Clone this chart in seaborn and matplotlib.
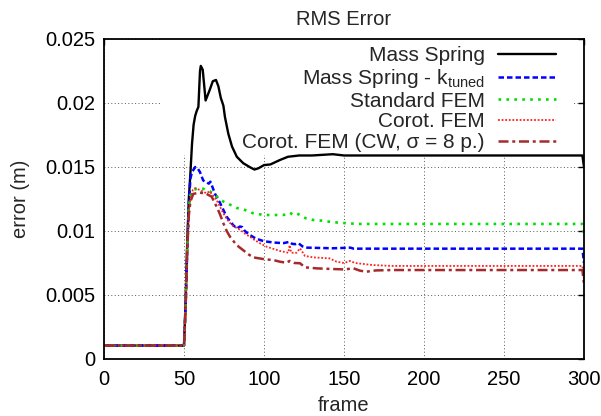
import matplotlib
matplotlib.use("Agg")
import matplotlib.pyplot as plt
from matplotlib.patches import Rectangle
import pandas as pd
import seaborn as sns

# frame / error pairs
ms_frames = [0, 50, 51, 52, 53, 54, 55, 56, 57, 58, 59, 60, 60.5, 61.7, 63.5, 66, 68, 70, 71.5, 73,
             74.6, 75.6, 77.7, 80, 83, 87, 91, 94, 96.5, 100, 104, 110, 115, 122, 130, 143, 150, 299, 300]
ms_err = [0.00105, 0.00105, 0.0045, 0.009, 0.0125, 0.0145, 0.0168, 0.0183, 0.0190, 0.0194, 0.0197,
          0.0225, 0.0229, 0.0226, 0.0202, 0.0210, 0.0217, 0.0218, 0.0213, 0.0204, 0.0198, 0.0189,
          0.0176, 0.0166, 0.0158, 0.0153, 0.0150, 0.0148, 0.0149, 0.01515, 0.0152, 0.01555, 0.0158,
          0.0159, 0.0159, 0.0160, 0.0159, 0.0159, 0.0150]

kt_frames = [0, 50, 51, 52, 53, 54, 55, 57, 58.5, 60, 62, 64.2, 65.5, 66.5, 69.4, 72.5, 76.7, 80.8,
             83, 85, 86.5, 88, 91, 95, 100, 106, 112, 116, 117.5, 119.5, 121.5, 124, 127, 143, 150,
             154, 156, 299, 300]
kt_err = [0.00105, 0.00105, 0.004, 0.0085, 0.012, 0.0141, 0.0146, 0.0150, 0.0149, 0.0146, 0.01395,
          0.0138, 0.0137, 0.01385, 0.0129, 0.0122, 0.0111, 0.01045, 0.0102, 0.01035, 0.0103, 0.0100,
          0.0097, 0.0094, 0.0092, 0.0091, 0.00905, 0.00915, 0.0090, 0.00897, 0.00905, 0.0088, 0.0087,
          0.00865, 0.00868, 0.0087, 0.00862, 0.00862, 0.0075]

sf_frames = [0, 50, 51, 52, 53, 54, 56, 58, 62, 66, 69, 72, 74.6, 77, 79.8, 83, 87, 90, 93.3, 100,
             112, 114, 116, 118, 120, 122.5, 126, 130.8, 137, 143, 148, 152, 160, 299, 300]
sf_err = [0.00105, 0.00105, 0.004, 0.0085, 0.0118, 0.0128, 0.0132, 0.0133, 0.0133, 0.0131, 0.0129,
          0.0125, 0.0123, 0.01215, 0.0120, 0.0118, 0.0117, 0.01155, 0.01138, 0.01125, 0.01125,
          0.0113, 0.01143, 0.0113, 0.0114, 0.01125, 0.0110, 0.01086, 0.0108, 0.01068, 0.01065,
          0.0106, 0.01055, 0.01055, 0.0098]

cf_frames = [0, 50, 51, 52, 53, 54, 55.5, 57, 60, 64, 66, 68, 70.4, 72.5, 74.6, 77, 79.8, 82, 85, 88,
             91.25, 94, 97.5, 101.7, 106, 110, 115.2, 116, 117, 120.4, 122.5, 125.6, 130.8, 141,
             145.4, 150, 153.75, 157, 168, 180, 299, 300]
cf_err = [0.00105, 0.00105, 0.004, 0.0085, 0.0115, 0.0126, 0.0132, 0.01335, 0.0132, 0.01295, 0.0131,
          0.0128, 0.01242, 0.0119, 0.01138, 0.0109, 0.01047, 0.0103, 0.0101, 0.0098, 0.00955, 0.0093,
          0.00904, 0.00877, 0.0086, 0.00844, 0.0083, 0.0089, 0.0083, 0.0083, 0.00865, 0.00805,
          0.00794, 0.00786, 0.0076, 0.0075, 0.00766, 0.0075, 0.00734, 0.00727, 0.00727, 0.0062]

cw_frames = [0, 50, 51, 52, 53, 54, 55.8, 60, 64, 67.3, 70.4, 72.5, 74.6, 76.7, 78.75, 82.9, 87, 90,
             93.3, 100, 105.8, 110, 114, 116, 119, 122.5, 125.6, 133, 143, 150, 156, 160, 164, 170,
             180, 299, 300]
cw_err = [0.00105, 0.00105, 0.004, 0.0085, 0.0112, 0.0123, 0.0129, 0.0130, 0.0129, 0.01268, 0.0119,
          0.0113, 0.0106, 0.0100, 0.00955, 0.0089, 0.0085, 0.0082, 0.00794, 0.0078, 0.00773, 0.0076,
          0.00752, 0.00766, 0.0075, 0.00748, 0.00716, 0.00708, 0.00703, 0.0070, 0.00708, 0.0069,
          0.00682, 0.00692, 0.00695, 0.00695, 0.0059]

labels = ["Mass Spring", r"Mass Spring - k$_\mathregular{tuned}$", "Standard FEM",
          "Corot. FEM", "Corot. FEM (CW, \u03c3 = 8 p.)"]

sns.set_style("white")
plt.rcParams["font.family"] = ["Liberation Sans", "DejaVu Sans"]
plt.rcParams["mathtext.fontset"] = "custom"
plt.rcParams["mathtext.rm"] = "Liberation Sans"
plt.rcParams["mathtext.it"] = "Liberation Sans"

fig = plt.figure(figsize=(6.01, 4.16), dpi=100)
ax = fig.add_axes([104 / 601, 1 - 359 / 416, 480 / 601, 320 / 416])

series = [
    (ms_frames, ms_err, "black", "-", 1.7),
    (kt_frames, kt_err, "#0000ff", (0, (2.2, 1.2)), 1.8),
    (sf_frames, sf_err, "#00e000", (0, (1, 2)), 1.9),
    (cf_frames, cf_err, "#ff2020", (0, (1, 1)), 1.3),
    (cw_frames, cw_err, "#a52a2a", (0, (4, 1.5, 1.2, 1.5)), 1.8),
]
for (fr, er, col, ls, lw), lab in zip(series, labels):
    df = pd.DataFrame({"frame": fr, "error": er})
    sns.lineplot(data=df, x="frame", y="error", color=col, linestyle=ls,
                 linewidth=lw, label=lab, ax=ax, zorder=2)

ax.set_xlim(0, 300)
ax.set_ylim(0, 0.025)
ax.set_xticks([0, 50, 100, 150, 200, 250, 300])
ax.set_yticks([0, 0.005, 0.01, 0.015, 0.02, 0.025])
ax.set_yticklabels(["0", "0.005", "0.01", "0.015", "0.02", "0.025"])
ax.set_axisbelow(True)
ax.grid(True, linestyle=(0, (1, 2.5)), color="0.35", linewidth=0.7)
ax.tick_params(direction="in", length=4, width=1, top=True, right=True,
               labelsize=14.5, colors="black")
ax.tick_params(axis="x", pad=8)
ax.tick_params(axis="y", pad=6.5)
for sp in ax.spines.values():
    sp.set_color("black")
    sp.set_linewidth(1.3)

ax.set_title("RMS Error", fontsize=14.5, pad=10)
ax.set_xlabel("frame", fontsize=14.5, labelpad=5)
ax.set_ylabel("error (m)", fontsize=14.5, labelpad=11)

# opaque key area, hides the grid but not the curves
ax.add_patch(Rectangle((0.117, 0.6375), 0.858, 0.3625, transform=ax.transAxes,
                       facecolor="white", edgecolor="none", zorder=1))

leg = ax.legend(loc="upper right", bbox_to_anchor=(1 - 21 / 480, 1), borderaxespad=0,
                borderpad=0.35, markerfirst=False, fontsize=15, handlelength=2.75,
                handletextpad=0.65, labelspacing=0.08, frameon=False)
leg.set_zorder(1.5)

fig.savefig("out.png", dpi=100)
